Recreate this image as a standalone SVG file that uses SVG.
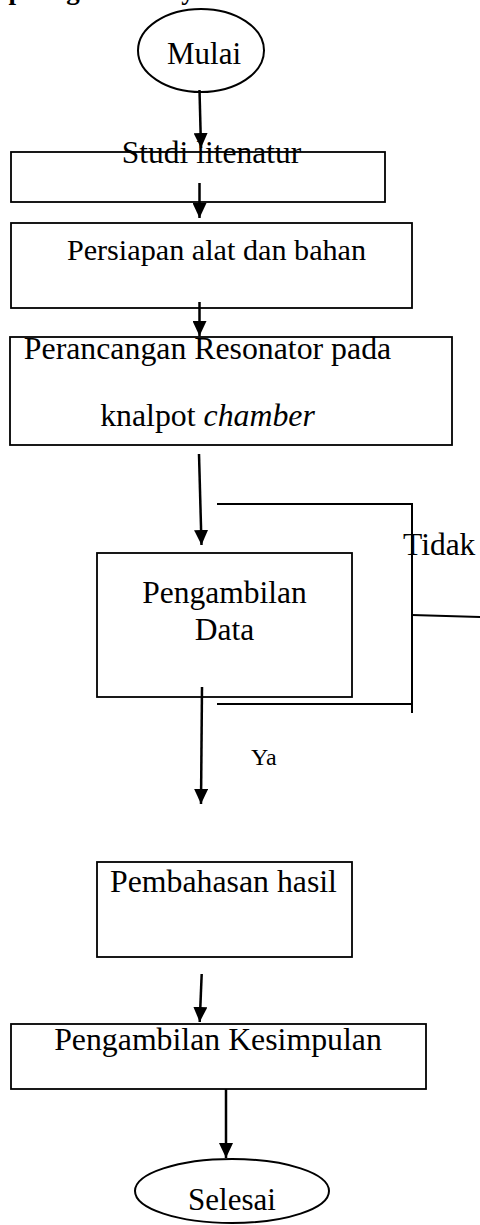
<svg xmlns="http://www.w3.org/2000/svg" width="480" height="1225" viewBox="0 0 480 1225">
<style>
  .t { font-family: "Liberation Serif", "Times New Roman", serif; fill: #000; }
  .box { fill: none; stroke: #000; stroke-width: 1.8; }
  .term { fill: #fff; stroke: #000; stroke-width: 2; }
  .conn { fill: none; stroke: #000; stroke-width: 2.5; }
  .thin { fill: none; stroke: #000; stroke-width: 2; }
</style>
<defs>
  <marker id="ah" markerUnits="userSpaceOnUse" markerWidth="16" markerHeight="14" refX="15" refY="7" orient="auto">
    <path d="M0,0 L15,7 L0,14 z" fill="#000"/>
  </marker>
</defs>
<rect x="0" y="0" width="480" height="1225" fill="#fff"/>

<text class="t" x="-49" y="-1" font-size="27" font-weight="bold">Tahap diagram alir yaitu :</text>

<g id="n-mulai">
  <ellipse class="term" cx="201" cy="50.5" rx="63" ry="41.5"/>
  <text class="t" x="204" y="64" font-size="31" text-anchor="middle">Mulai</text>
</g>

<g id="n-studi">
  <rect class="box" x="11" y="152" width="374" height="50"/>
  <text class="t" x="211.5" y="163" font-size="31.5" text-anchor="middle">Studi litenatur</text>
</g>

<g id="n-persiapan">
  <rect class="box" x="11" y="223" width="401" height="85"/>
  <text class="t" x="216.5" y="260" font-size="30.2" text-anchor="middle">Persiapan alat dan bahan</text>
</g>

<g id="n-perancangan">
  <rect class="box" x="10" y="337" width="442" height="108"/>
  <text class="t" x="207.5" y="359" font-size="31.8" text-anchor="middle">Perancangan Resonator pada</text>
  <text class="t" x="207.5" y="426" font-size="31.8" text-anchor="middle">knalpot <tspan font-style="italic">chamber</tspan></text>
</g>

<g id="n-data">
  <rect class="box" x="97" y="553" width="255" height="144"/>
  <text class="t" x="224.5" y="603" font-size="31.5" text-anchor="middle">Pengambilan</text>
  <text class="t" x="224.5" y="640" font-size="31.5" text-anchor="middle">Data</text>
</g>

<g id="n-pembahasan">
  <rect class="box" x="97" y="862" width="255" height="95"/>
  <text class="t" x="223.5" y="892" font-size="31.8" text-anchor="middle">Pembahasan hasil</text>
</g>

<g id="n-kesimpulan">
  <rect class="box" x="11" y="1024" width="415" height="65"/>
  <text class="t" x="218" y="1050" font-size="31.8" text-anchor="middle">Pengambilan Kesimpulan</text>
</g>

<g id="n-selesai">
  <ellipse class="term" cx="232" cy="1191" rx="97" ry="32"/>
  <text class="t" x="232" y="1210" font-size="31" text-anchor="middle">Selesai</text>
</g>

<g id="connectors">
  <path class="conn" d="M199.5,90 L201,148" marker-end="url(#ah)"/>
  <path class="conn" d="M199.5,183 L199.5,218" marker-end="url(#ah)"/>
  <path class="conn" d="M199.5,302 L199.5,336" marker-end="url(#ah)"/>
  <path class="conn" d="M199,454 L201.5,545" marker-end="url(#ah)"/>
  <path class="conn" d="M202,687 L201,804" marker-end="url(#ah)"/>
  <path class="conn" d="M201.7,974 L199.7,1022" marker-end="url(#ah)"/>
  <path class="conn" d="M226,1089 L226,1158" marker-end="url(#ah)"/>
  <path class="thin" d="M217,504 L412,504 L412,713"/>
  <path class="thin" d="M217,704 L412,704"/>
  <path class="thin" d="M412,615 L480,617"/>
  <text class="t" x="403" y="555" font-size="31.5">Tidak</text>
  <text class="t" x="251" y="765" font-size="24">Ya</text>
</g>
</svg>
